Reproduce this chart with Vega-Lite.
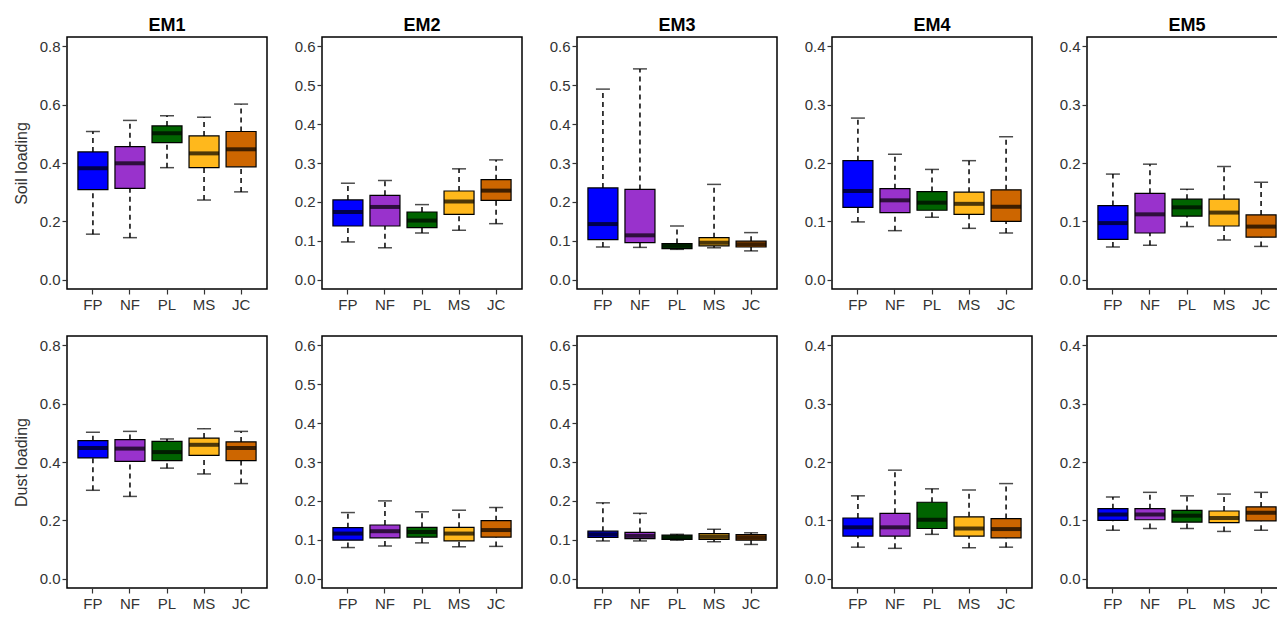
{
  "$schema": "https://vega.github.io/schema/vega-lite/v6.json",
  "padding": {"left": 12, "top": 16, "right": 0, "bottom": 0},
  "background": "white",
  "datasets": {
    "box": [
      {"em":"EM1","load":"Soil","grp":"FP","min":0.156,"q1":0.309,"med":0.382,"q3":0.438,"max":0.508},
      {"em":"EM1","load":"Soil","grp":"NF","min":0.144,"q1":0.313,"med":0.399,"q3":0.456,"max":0.546},
      {"em":"EM1","load":"Soil","grp":"PL","min":0.384,"q1":0.470,"med":0.502,"q3":0.527,"max":0.562},
      {"em":"EM1","load":"Soil","grp":"MS","min":0.273,"q1":0.384,"med":0.433,"q3":0.493,"max":0.557},
      {"em":"EM1","load":"Soil","grp":"JC","min":0.301,"q1":0.387,"med":0.447,"q3":0.508,"max":0.602},
      {"em":"EM2","load":"Soil","grp":"FP","min":0.097,"q1":0.138,"med":0.174,"q3":0.205,"max":0.248},
      {"em":"EM2","load":"Soil","grp":"NF","min":0.082,"q1":0.138,"med":0.187,"q3":0.217,"max":0.255},
      {"em":"EM2","load":"Soil","grp":"PL","min":0.120,"q1":0.134,"med":0.152,"q3":0.174,"max":0.193},
      {"em":"EM2","load":"Soil","grp":"MS","min":0.127,"q1":0.168,"med":0.201,"q3":0.228,"max":0.285},
      {"em":"EM2","load":"Soil","grp":"JC","min":0.144,"q1":0.204,"med":0.229,"q3":0.257,"max":0.308},
      {"em":"EM3","load":"Soil","grp":"FP","min":0.084,"q1":0.103,"med":0.143,"q3":0.236,"max":0.490},
      {"em":"EM3","load":"Soil","grp":"NF","min":0.083,"q1":0.095,"med":0.114,"q3":0.232,"max":0.542},
      {"em":"EM3","load":"Soil","grp":"PL","min":0.078,"q1":0.080,"med":0.087,"q3":0.093,"max":0.138},
      {"em":"EM3","load":"Soil","grp":"MS","min":0.082,"q1":0.087,"med":0.095,"q3":0.108,"max":0.245},
      {"em":"EM3","load":"Soil","grp":"JC","min":0.074,"q1":0.084,"med":0.091,"q3":0.099,"max":0.121},
      {"em":"EM4","load":"Soil","grp":"FP","min":0.099,"q1":0.124,"med":0.152,"q3":0.204,"max":0.277},
      {"em":"EM4","load":"Soil","grp":"NF","min":0.084,"q1":0.115,"med":0.136,"q3":0.156,"max":0.215},
      {"em":"EM4","load":"Soil","grp":"PL","min":0.107,"q1":0.119,"med":0.132,"q3":0.151,"max":0.189},
      {"em":"EM4","load":"Soil","grp":"MS","min":0.088,"q1":0.112,"med":0.130,"q3":0.150,"max":0.204},
      {"em":"EM4","load":"Soil","grp":"JC","min":0.080,"q1":0.100,"med":0.125,"q3":0.154,"max":0.245},
      {"em":"EM5","load":"Soil","grp":"FP","min":0.056,"q1":0.069,"med":0.097,"q3":0.127,"max":0.181},
      {"em":"EM5","load":"Soil","grp":"NF","min":0.059,"q1":0.080,"med":0.112,"q3":0.148,"max":0.198},
      {"em":"EM5","load":"Soil","grp":"PL","min":0.091,"q1":0.109,"med":0.124,"q3":0.138,"max":0.155},
      {"em":"EM5","load":"Soil","grp":"MS","min":0.068,"q1":0.092,"med":0.115,"q3":0.138,"max":0.194},
      {"em":"EM5","load":"Soil","grp":"JC","min":0.057,"q1":0.073,"med":0.091,"q3":0.111,"max":0.167},
      {"em":"EM1","load":"Dust","grp":"FP","min":0.303,"q1":0.414,"med":0.448,"q3":0.473,"max":0.502},
      {"em":"EM1","load":"Dust","grp":"NF","min":0.282,"q1":0.402,"med":0.446,"q3":0.477,"max":0.505},
      {"em":"EM1","load":"Dust","grp":"PL","min":0.379,"q1":0.405,"med":0.434,"q3":0.471,"max":0.479},
      {"em":"EM1","load":"Dust","grp":"MS","min":0.359,"q1":0.423,"med":0.459,"q3":0.482,"max":0.514},
      {"em":"EM1","load":"Dust","grp":"JC","min":0.326,"q1":0.405,"med":0.448,"q3":0.469,"max":0.505},
      {"em":"EM2","load":"Dust","grp":"FP","min":0.080,"q1":0.099,"med":0.116,"q3":0.131,"max":0.170},
      {"em":"EM2","load":"Dust","grp":"NF","min":0.084,"q1":0.105,"med":0.122,"q3":0.138,"max":0.200},
      {"em":"EM2","load":"Dust","grp":"PL","min":0.092,"q1":0.107,"med":0.120,"q3":0.132,"max":0.172},
      {"em":"EM2","load":"Dust","grp":"MS","min":0.082,"q1":0.097,"med":0.116,"q3":0.132,"max":0.176},
      {"em":"EM2","load":"Dust","grp":"JC","min":0.083,"q1":0.107,"med":0.125,"q3":0.149,"max":0.183},
      {"em":"EM3","load":"Dust","grp":"FP","min":0.097,"q1":0.106,"med":0.114,"q3":0.122,"max":0.195},
      {"em":"EM3","load":"Dust","grp":"NF","min":0.097,"q1":0.103,"med":0.110,"q3":0.119,"max":0.168},
      {"em":"EM3","load":"Dust","grp":"PL","min":0.099,"q1":0.101,"med":0.106,"q3":0.112,"max":0.114},
      {"em":"EM3","load":"Dust","grp":"MS","min":0.095,"q1":0.101,"med":0.108,"q3":0.116,"max":0.127},
      {"em":"EM3","load":"Dust","grp":"JC","min":0.088,"q1":0.099,"med":0.106,"q3":0.113,"max":0.118},
      {"em":"EM4","load":"Dust","grp":"FP","min":0.054,"q1":0.073,"med":0.088,"q3":0.104,"max":0.142},
      {"em":"EM4","load":"Dust","grp":"NF","min":0.052,"q1":0.073,"med":0.088,"q3":0.112,"max":0.186},
      {"em":"EM4","load":"Dust","grp":"PL","min":0.076,"q1":0.086,"med":0.101,"q3":0.131,"max":0.154},
      {"em":"EM4","load":"Dust","grp":"MS","min":0.053,"q1":0.073,"med":0.086,"q3":0.106,"max":0.152},
      {"em":"EM4","load":"Dust","grp":"JC","min":0.054,"q1":0.070,"med":0.085,"q3":0.103,"max":0.163},
      {"em":"EM5","load":"Dust","grp":"FP","min":0.083,"q1":0.100,"med":0.110,"q3":0.120,"max":0.140},
      {"em":"EM5","load":"Dust","grp":"NF","min":0.086,"q1":0.101,"med":0.110,"q3":0.120,"max":0.148},
      {"em":"EM5","load":"Dust","grp":"PL","min":0.086,"q1":0.097,"med":0.108,"q3":0.117,"max":0.142},
      {"em":"EM5","load":"Dust","grp":"MS","min":0.081,"q1":0.096,"med":0.104,"q3":0.116,"max":0.145},
      {"em":"EM5","load":"Dust","grp":"JC","min":0.083,"q1":0.099,"med":0.113,"q3":0.123,"max":0.148}
    ]
  },
  "data": {"name": "box"},
  "columns": 5,
  "bounds": "flush",
  "spacing": {"row": 47, "column": 55},
  "concat": [
    {
      "width": 200, "height": 252, "title": "EM1",
      "transform": [{"filter": "datum.em === 'EM1' && datum.load === 'Soil'"}],
      "encoding": {"x": {"field": "grp", "type": "nominal", "sort": ["FP","NF","PL","MS","JC"], "title": null, "scale": {"paddingInner": 0, "paddingOuter": 0.2}}},
      "layer": [
        {"mark": {"type": "rule", "strokeDash": [5,4], "strokeWidth": 1.5, "color": "black"}, "encoding": {"y": {"field": "min", "type": "quantitative", "title": "Soil loading", "scale": {"domain": [-0.032, 0.832], "nice": false, "zero": false}, "axis": {"values": [0, 0.2, 0.4, 0.6, 0.8]}}, "y2": {"field": "q1"}}},
        {"mark": {"type": "rule", "strokeDash": [5,4], "strokeWidth": 1.5, "color": "black"}, "encoding": {"y": {"field": "q3", "type": "quantitative", "title": "Soil loading"}, "y2": {"field": "max"}}},
        {"mark": {"type": "tick", "size": 14, "thickness": 1.5, "color": "black"}, "encoding": {"y": {"field": "min", "type": "quantitative", "title": "Soil loading"}}},
        {"mark": {"type": "tick", "size": 14, "thickness": 1.5, "color": "black"}, "encoding": {"y": {"field": "max", "type": "quantitative", "title": "Soil loading"}}},
        {"mark": {"type": "bar", "size": 30, "stroke": "black", "strokeWidth": 1.2, "opacity": 1}, "encoding": {"y": {"field": "q1", "type": "quantitative", "title": "Soil loading"}, "y2": {"field": "q3"}, "color": {"field": "grp", "type": "nominal", "scale": {"domain": ["FP","NF","PL","MS","JC"], "range": ["#0000FF","#9932CC","#006400","#FFB81C","#CD6600"]}, "legend": null}}},
        {"mark": {"type": "tick", "size": 30, "thickness": 4, "color": "black"}, "encoding": {"y": {"field": "med", "type": "quantitative", "title": "Soil loading"}}}
      ]
    },
    {
      "width": 200, "height": 252, "title": "EM2",
      "transform": [{"filter": "datum.em === 'EM2' && datum.load === 'Soil'"}],
      "encoding": {"x": {"field": "grp", "type": "nominal", "sort": ["FP","NF","PL","MS","JC"], "title": null, "scale": {"paddingInner": 0, "paddingOuter": 0.2}}},
      "layer": [
        {"mark": {"type": "rule", "strokeDash": [5,4], "strokeWidth": 1.5, "color": "black"}, "encoding": {"y": {"field": "min", "type": "quantitative", "title": null, "scale": {"domain": [-0.024, 0.624], "nice": false, "zero": false}, "axis": {"values": [0, 0.1, 0.2, 0.3, 0.4, 0.5, 0.6]}}, "y2": {"field": "q1"}}},
        {"mark": {"type": "rule", "strokeDash": [5,4], "strokeWidth": 1.5, "color": "black"}, "encoding": {"y": {"field": "q3", "type": "quantitative", "title": null}, "y2": {"field": "max"}}},
        {"mark": {"type": "tick", "size": 14, "thickness": 1.5, "color": "black"}, "encoding": {"y": {"field": "min", "type": "quantitative", "title": null}}},
        {"mark": {"type": "tick", "size": 14, "thickness": 1.5, "color": "black"}, "encoding": {"y": {"field": "max", "type": "quantitative", "title": null}}},
        {"mark": {"type": "bar", "size": 30, "stroke": "black", "strokeWidth": 1.2, "opacity": 1}, "encoding": {"y": {"field": "q1", "type": "quantitative", "title": null}, "y2": {"field": "q3"}, "color": {"field": "grp", "type": "nominal", "scale": {"domain": ["FP","NF","PL","MS","JC"], "range": ["#0000FF","#9932CC","#006400","#FFB81C","#CD6600"]}, "legend": null}}},
        {"mark": {"type": "tick", "size": 30, "thickness": 4, "color": "black"}, "encoding": {"y": {"field": "med", "type": "quantitative", "title": null}}}
      ]
    },
    {
      "width": 200, "height": 252, "title": "EM3",
      "transform": [{"filter": "datum.em === 'EM3' && datum.load === 'Soil'"}],
      "encoding": {"x": {"field": "grp", "type": "nominal", "sort": ["FP","NF","PL","MS","JC"], "title": null, "scale": {"paddingInner": 0, "paddingOuter": 0.2}}},
      "layer": [
        {"mark": {"type": "rule", "strokeDash": [5,4], "strokeWidth": 1.5, "color": "black"}, "encoding": {"y": {"field": "min", "type": "quantitative", "title": null, "scale": {"domain": [-0.024, 0.624], "nice": false, "zero": false}, "axis": {"values": [0, 0.1, 0.2, 0.3, 0.4, 0.5, 0.6]}}, "y2": {"field": "q1"}}},
        {"mark": {"type": "rule", "strokeDash": [5,4], "strokeWidth": 1.5, "color": "black"}, "encoding": {"y": {"field": "q3", "type": "quantitative", "title": null}, "y2": {"field": "max"}}},
        {"mark": {"type": "tick", "size": 14, "thickness": 1.5, "color": "black"}, "encoding": {"y": {"field": "min", "type": "quantitative", "title": null}}},
        {"mark": {"type": "tick", "size": 14, "thickness": 1.5, "color": "black"}, "encoding": {"y": {"field": "max", "type": "quantitative", "title": null}}},
        {"mark": {"type": "bar", "size": 30, "stroke": "black", "strokeWidth": 1.2, "opacity": 1}, "encoding": {"y": {"field": "q1", "type": "quantitative", "title": null}, "y2": {"field": "q3"}, "color": {"field": "grp", "type": "nominal", "scale": {"domain": ["FP","NF","PL","MS","JC"], "range": ["#0000FF","#9932CC","#006400","#FFB81C","#CD6600"]}, "legend": null}}},
        {"mark": {"type": "tick", "size": 30, "thickness": 4, "color": "black"}, "encoding": {"y": {"field": "med", "type": "quantitative", "title": null}}}
      ]
    },
    {
      "width": 200, "height": 252, "title": "EM4",
      "transform": [{"filter": "datum.em === 'EM4' && datum.load === 'Soil'"}],
      "encoding": {"x": {"field": "grp", "type": "nominal", "sort": ["FP","NF","PL","MS","JC"], "title": null, "scale": {"paddingInner": 0, "paddingOuter": 0.2}}},
      "layer": [
        {"mark": {"type": "rule", "strokeDash": [5,4], "strokeWidth": 1.5, "color": "black"}, "encoding": {"y": {"field": "min", "type": "quantitative", "title": null, "scale": {"domain": [-0.016, 0.416], "nice": false, "zero": false}, "axis": {"values": [0, 0.1, 0.2, 0.3, 0.4]}}, "y2": {"field": "q1"}}},
        {"mark": {"type": "rule", "strokeDash": [5,4], "strokeWidth": 1.5, "color": "black"}, "encoding": {"y": {"field": "q3", "type": "quantitative", "title": null}, "y2": {"field": "max"}}},
        {"mark": {"type": "tick", "size": 14, "thickness": 1.5, "color": "black"}, "encoding": {"y": {"field": "min", "type": "quantitative", "title": null}}},
        {"mark": {"type": "tick", "size": 14, "thickness": 1.5, "color": "black"}, "encoding": {"y": {"field": "max", "type": "quantitative", "title": null}}},
        {"mark": {"type": "bar", "size": 30, "stroke": "black", "strokeWidth": 1.2, "opacity": 1}, "encoding": {"y": {"field": "q1", "type": "quantitative", "title": null}, "y2": {"field": "q3"}, "color": {"field": "grp", "type": "nominal", "scale": {"domain": ["FP","NF","PL","MS","JC"], "range": ["#0000FF","#9932CC","#006400","#FFB81C","#CD6600"]}, "legend": null}}},
        {"mark": {"type": "tick", "size": 30, "thickness": 4, "color": "black"}, "encoding": {"y": {"field": "med", "type": "quantitative", "title": null}}}
      ]
    },
    {
      "width": 200, "height": 252, "title": "EM5",
      "transform": [{"filter": "datum.em === 'EM5' && datum.load === 'Soil'"}],
      "encoding": {"x": {"field": "grp", "type": "nominal", "sort": ["FP","NF","PL","MS","JC"], "title": null, "scale": {"paddingInner": 0, "paddingOuter": 0.2}}},
      "layer": [
        {"mark": {"type": "rule", "strokeDash": [5,4], "strokeWidth": 1.5, "color": "black"}, "encoding": {"y": {"field": "min", "type": "quantitative", "title": null, "scale": {"domain": [-0.016, 0.416], "nice": false, "zero": false}, "axis": {"values": [0, 0.1, 0.2, 0.3, 0.4]}}, "y2": {"field": "q1"}}},
        {"mark": {"type": "rule", "strokeDash": [5,4], "strokeWidth": 1.5, "color": "black"}, "encoding": {"y": {"field": "q3", "type": "quantitative", "title": null}, "y2": {"field": "max"}}},
        {"mark": {"type": "tick", "size": 14, "thickness": 1.5, "color": "black"}, "encoding": {"y": {"field": "min", "type": "quantitative", "title": null}}},
        {"mark": {"type": "tick", "size": 14, "thickness": 1.5, "color": "black"}, "encoding": {"y": {"field": "max", "type": "quantitative", "title": null}}},
        {"mark": {"type": "bar", "size": 30, "stroke": "black", "strokeWidth": 1.2, "opacity": 1}, "encoding": {"y": {"field": "q1", "type": "quantitative", "title": null}, "y2": {"field": "q3"}, "color": {"field": "grp", "type": "nominal", "scale": {"domain": ["FP","NF","PL","MS","JC"], "range": ["#0000FF","#9932CC","#006400","#FFB81C","#CD6600"]}, "legend": null}}},
        {"mark": {"type": "tick", "size": 30, "thickness": 4, "color": "black"}, "encoding": {"y": {"field": "med", "type": "quantitative", "title": null}}}
      ]
    },
    {
      "width": 200, "height": 252,
      "transform": [{"filter": "datum.em === 'EM1' && datum.load === 'Dust'"}],
      "encoding": {"x": {"field": "grp", "type": "nominal", "sort": ["FP","NF","PL","MS","JC"], "title": null, "scale": {"paddingInner": 0, "paddingOuter": 0.2}}},
      "layer": [
        {"mark": {"type": "rule", "strokeDash": [5,4], "strokeWidth": 1.5, "color": "black"}, "encoding": {"y": {"field": "min", "type": "quantitative", "title": "Dust loading", "scale": {"domain": [-0.032, 0.832], "nice": false, "zero": false}, "axis": {"values": [0, 0.2, 0.4, 0.6, 0.8]}}, "y2": {"field": "q1"}}},
        {"mark": {"type": "rule", "strokeDash": [5,4], "strokeWidth": 1.5, "color": "black"}, "encoding": {"y": {"field": "q3", "type": "quantitative", "title": "Dust loading"}, "y2": {"field": "max"}}},
        {"mark": {"type": "tick", "size": 14, "thickness": 1.5, "color": "black"}, "encoding": {"y": {"field": "min", "type": "quantitative", "title": "Dust loading"}}},
        {"mark": {"type": "tick", "size": 14, "thickness": 1.5, "color": "black"}, "encoding": {"y": {"field": "max", "type": "quantitative", "title": "Dust loading"}}},
        {"mark": {"type": "bar", "size": 30, "stroke": "black", "strokeWidth": 1.2, "opacity": 1}, "encoding": {"y": {"field": "q1", "type": "quantitative", "title": "Dust loading"}, "y2": {"field": "q3"}, "color": {"field": "grp", "type": "nominal", "scale": {"domain": ["FP","NF","PL","MS","JC"], "range": ["#0000FF","#9932CC","#006400","#FFB81C","#CD6600"]}, "legend": null}}},
        {"mark": {"type": "tick", "size": 30, "thickness": 4, "color": "black"}, "encoding": {"y": {"field": "med", "type": "quantitative", "title": "Dust loading"}}}
      ]
    },
    {
      "width": 200, "height": 252,
      "transform": [{"filter": "datum.em === 'EM2' && datum.load === 'Dust'"}],
      "encoding": {"x": {"field": "grp", "type": "nominal", "sort": ["FP","NF","PL","MS","JC"], "title": null, "scale": {"paddingInner": 0, "paddingOuter": 0.2}}},
      "layer": [
        {"mark": {"type": "rule", "strokeDash": [5,4], "strokeWidth": 1.5, "color": "black"}, "encoding": {"y": {"field": "min", "type": "quantitative", "title": null, "scale": {"domain": [-0.024, 0.624], "nice": false, "zero": false}, "axis": {"values": [0, 0.1, 0.2, 0.3, 0.4, 0.5, 0.6]}}, "y2": {"field": "q1"}}},
        {"mark": {"type": "rule", "strokeDash": [5,4], "strokeWidth": 1.5, "color": "black"}, "encoding": {"y": {"field": "q3", "type": "quantitative", "title": null}, "y2": {"field": "max"}}},
        {"mark": {"type": "tick", "size": 14, "thickness": 1.5, "color": "black"}, "encoding": {"y": {"field": "min", "type": "quantitative", "title": null}}},
        {"mark": {"type": "tick", "size": 14, "thickness": 1.5, "color": "black"}, "encoding": {"y": {"field": "max", "type": "quantitative", "title": null}}},
        {"mark": {"type": "bar", "size": 30, "stroke": "black", "strokeWidth": 1.2, "opacity": 1}, "encoding": {"y": {"field": "q1", "type": "quantitative", "title": null}, "y2": {"field": "q3"}, "color": {"field": "grp", "type": "nominal", "scale": {"domain": ["FP","NF","PL","MS","JC"], "range": ["#0000FF","#9932CC","#006400","#FFB81C","#CD6600"]}, "legend": null}}},
        {"mark": {"type": "tick", "size": 30, "thickness": 4, "color": "black"}, "encoding": {"y": {"field": "med", "type": "quantitative", "title": null}}}
      ]
    },
    {
      "width": 200, "height": 252,
      "transform": [{"filter": "datum.em === 'EM3' && datum.load === 'Dust'"}],
      "encoding": {"x": {"field": "grp", "type": "nominal", "sort": ["FP","NF","PL","MS","JC"], "title": null, "scale": {"paddingInner": 0, "paddingOuter": 0.2}}},
      "layer": [
        {"mark": {"type": "rule", "strokeDash": [5,4], "strokeWidth": 1.5, "color": "black"}, "encoding": {"y": {"field": "min", "type": "quantitative", "title": null, "scale": {"domain": [-0.024, 0.624], "nice": false, "zero": false}, "axis": {"values": [0, 0.1, 0.2, 0.3, 0.4, 0.5, 0.6]}}, "y2": {"field": "q1"}}},
        {"mark": {"type": "rule", "strokeDash": [5,4], "strokeWidth": 1.5, "color": "black"}, "encoding": {"y": {"field": "q3", "type": "quantitative", "title": null}, "y2": {"field": "max"}}},
        {"mark": {"type": "tick", "size": 14, "thickness": 1.5, "color": "black"}, "encoding": {"y": {"field": "min", "type": "quantitative", "title": null}}},
        {"mark": {"type": "tick", "size": 14, "thickness": 1.5, "color": "black"}, "encoding": {"y": {"field": "max", "type": "quantitative", "title": null}}},
        {"mark": {"type": "bar", "size": 30, "stroke": "black", "strokeWidth": 1.2, "opacity": 1}, "encoding": {"y": {"field": "q1", "type": "quantitative", "title": null}, "y2": {"field": "q3"}, "color": {"field": "grp", "type": "nominal", "scale": {"domain": ["FP","NF","PL","MS","JC"], "range": ["#0000FF","#9932CC","#006400","#FFB81C","#CD6600"]}, "legend": null}}},
        {"mark": {"type": "tick", "size": 30, "thickness": 4, "color": "black"}, "encoding": {"y": {"field": "med", "type": "quantitative", "title": null}}}
      ]
    },
    {
      "width": 200, "height": 252,
      "transform": [{"filter": "datum.em === 'EM4' && datum.load === 'Dust'"}],
      "encoding": {"x": {"field": "grp", "type": "nominal", "sort": ["FP","NF","PL","MS","JC"], "title": null, "scale": {"paddingInner": 0, "paddingOuter": 0.2}}},
      "layer": [
        {"mark": {"type": "rule", "strokeDash": [5,4], "strokeWidth": 1.5, "color": "black"}, "encoding": {"y": {"field": "min", "type": "quantitative", "title": null, "scale": {"domain": [-0.016, 0.416], "nice": false, "zero": false}, "axis": {"values": [0, 0.1, 0.2, 0.3, 0.4]}}, "y2": {"field": "q1"}}},
        {"mark": {"type": "rule", "strokeDash": [5,4], "strokeWidth": 1.5, "color": "black"}, "encoding": {"y": {"field": "q3", "type": "quantitative", "title": null}, "y2": {"field": "max"}}},
        {"mark": {"type": "tick", "size": 14, "thickness": 1.5, "color": "black"}, "encoding": {"y": {"field": "min", "type": "quantitative", "title": null}}},
        {"mark": {"type": "tick", "size": 14, "thickness": 1.5, "color": "black"}, "encoding": {"y": {"field": "max", "type": "quantitative", "title": null}}},
        {"mark": {"type": "bar", "size": 30, "stroke": "black", "strokeWidth": 1.2, "opacity": 1}, "encoding": {"y": {"field": "q1", "type": "quantitative", "title": null}, "y2": {"field": "q3"}, "color": {"field": "grp", "type": "nominal", "scale": {"domain": ["FP","NF","PL","MS","JC"], "range": ["#0000FF","#9932CC","#006400","#FFB81C","#CD6600"]}, "legend": null}}},
        {"mark": {"type": "tick", "size": 30, "thickness": 4, "color": "black"}, "encoding": {"y": {"field": "med", "type": "quantitative", "title": null}}}
      ]
    },
    {
      "width": 200, "height": 252,
      "transform": [{"filter": "datum.em === 'EM5' && datum.load === 'Dust'"}],
      "encoding": {"x": {"field": "grp", "type": "nominal", "sort": ["FP","NF","PL","MS","JC"], "title": null, "scale": {"paddingInner": 0, "paddingOuter": 0.2}}},
      "layer": [
        {"mark": {"type": "rule", "strokeDash": [5,4], "strokeWidth": 1.5, "color": "black"}, "encoding": {"y": {"field": "min", "type": "quantitative", "title": null, "scale": {"domain": [-0.016, 0.416], "nice": false, "zero": false}, "axis": {"values": [0, 0.1, 0.2, 0.3, 0.4]}}, "y2": {"field": "q1"}}},
        {"mark": {"type": "rule", "strokeDash": [5,4], "strokeWidth": 1.5, "color": "black"}, "encoding": {"y": {"field": "q3", "type": "quantitative", "title": null}, "y2": {"field": "max"}}},
        {"mark": {"type": "tick", "size": 14, "thickness": 1.5, "color": "black"}, "encoding": {"y": {"field": "min", "type": "quantitative", "title": null}}},
        {"mark": {"type": "tick", "size": 14, "thickness": 1.5, "color": "black"}, "encoding": {"y": {"field": "max", "type": "quantitative", "title": null}}},
        {"mark": {"type": "bar", "size": 30, "stroke": "black", "strokeWidth": 1.2, "opacity": 1}, "encoding": {"y": {"field": "q1", "type": "quantitative", "title": null}, "y2": {"field": "q3"}, "color": {"field": "grp", "type": "nominal", "scale": {"domain": ["FP","NF","PL","MS","JC"], "range": ["#0000FF","#9932CC","#006400","#FFB81C","#CD6600"]}, "legend": null}}},
        {"mark": {"type": "tick", "size": 30, "thickness": 4, "color": "black"}, "encoding": {"y": {"field": "med", "type": "quantitative", "title": null}}}
      ]
    }
  ],
  "config": {
    "view": {"stroke": "black", "strokeWidth": 1.5},
    "axis": {"labelFont": "Liberation Sans", "labelFontSize": 15, "labelColor": "#333333", "tickColor": "#333333", "tickSize": 5, "tickWidth": 1.2, "domain": false, "grid": false, "titleFont": "Liberation Sans", "titleFontSize": 16, "titleFontWeight": "normal", "titleColor": "#333333"},
    "axisX": {"labelAngle": 0, "labelPadding": 3},
    "axisY": {"format": ".1f", "labelPadding": 2, "titlePadding": 10},
    "title": {"font": "Liberation Sans", "fontSize": 18, "fontWeight": "bold", "offset": 2, "color": "black"}
  }
}
